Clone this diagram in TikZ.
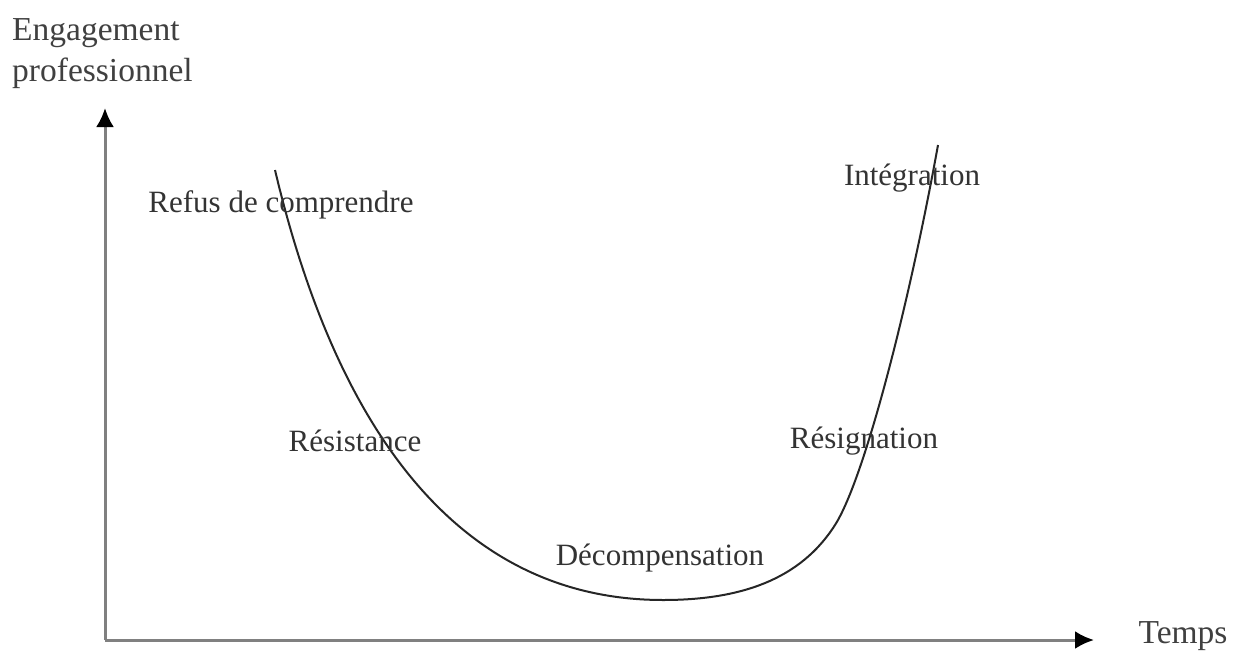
\documentclass[tikz,border=0pt]{standalone}
\usepackage{fontspec}
\setmainfont{Liberation Serif}
\usetikzlibrary{arrows.meta}
\begin{document}
\begin{tikzpicture}[x=1pt,y=-1pt,
  lbl/.style={text=black!80, font=\fontsize{31}{36}\selectfont, inner sep=0pt},
  axlbl/.style={text=black!75, font=\fontsize{33.5}{38}\selectfont, inner sep=0pt},
  axis/.style={draw=black!50, line width=3pt, -{Latex[black,length=19pt,width=18pt]}},
  curve/.style={draw=black!85, line width=2pt}]
\useasboundingbox (0,0) rectangle (1237,651);
\coordinate (O) at (105,640);
\coordinate (ytip) at (105,108);
\coordinate (xtip) at (1094,640);
\draw[axis] (O) -- (ytip);
\draw[axis] (O) -- (xtip);
\node[axlbl, anchor=west] (eng) at (12,33) {Engagement};
\node[axlbl, anchor=west] (pro) at (12,73) {professionnel};
\node[axlbl] (temps) at (1183,636) {Temps};
\coordinate (c0) at (275,170);
\coordinate (c1) at (663,600);
\coordinate (c2) at (835,525);
\coordinate (c3) at (938,145);
\draw[curve] (c0) .. controls (320,360) and (420,600) .. (c1)
  .. controls (740,600) and (800,580) .. (c2)
  .. controls (865,478) and (910,300) .. (c3);
\node[lbl] (refus) at (281,205) {Refus de comprendre};
\node[lbl] (integ) at (912,178) {Intégration};
\node[lbl] (resist) at (355,441) {Résistance};
\node[lbl] (resign) at (864,441) {Résignation};
\node[lbl] (decomp) at (660,558) {Décompensation};
\end{tikzpicture}
\end{document}
